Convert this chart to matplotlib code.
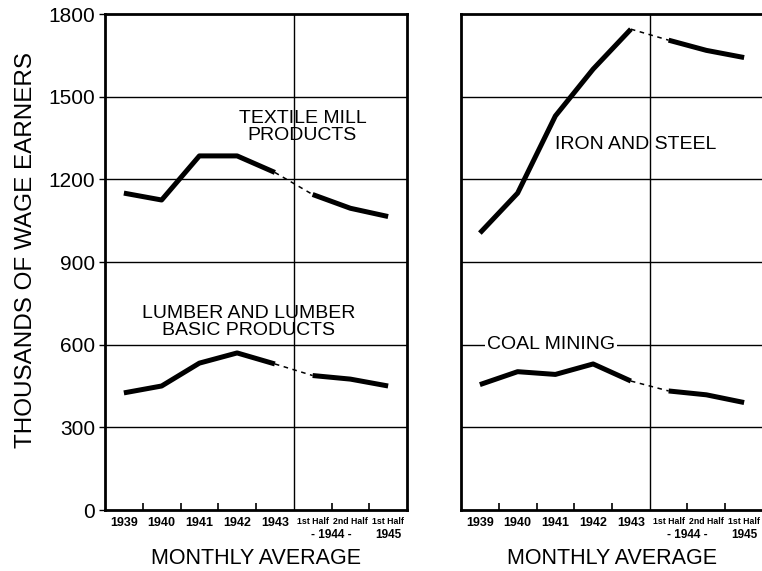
import matplotlib
matplotlib.use("Agg")
import matplotlib.pyplot as plt
import matplotlib.transforms as mtransforms

plt.rcParams['font.family'] = ['Liberation Sans', 'DejaVu Sans']

categories = ['1939', '1940', '1941', '1942', '1943', '1st Half', '2nd Half', '1st Half']
year_groups = ['- 1944 -', '1945']
textile = [1150, 1125, 1285, 1285, 1225, 1145, 1095, 1065]
lumber = [425, 450, 533, 570, 530, 488, 475, 450]
iron_steel = [1005, 1150, 1430, 1600, 1745, 1705, 1668, 1642]
coal = [455, 502, 492, 530, 468, 432, 418, 390]
yticks = [0, 300, 600, 900, 1200, 1500, 1800]

x = [i + 0.5 for i in range(len(categories))]

fig = plt.figure(figsize=(7.62, 5.71), dpi=100)
ax1 = fig.add_axes([105/762, 1 - 510/571, 302/762, 496/571])
ax2 = fig.add_axes([461/762, 1 - 510/571, 302/762, 496/571])


def draw_series(ax, vals):
    kw = dict(color='black', solid_capstyle='butt', solid_joinstyle='round')
    ax.plot(x[:5], vals[:5], lw=3.6, **kw)
    ax.plot(x[4:6], vals[4:6], lw=1.1, ls=(0, (3, 3)), color='black')
    ax.plot(x[5:], vals[5:], lw=3.6, **kw)


def style(ax, show_y):
    ax.set_xlim(0, 8)
    ax.set_ylim(0, 1800)
    for s in ax.spines.values():
        s.set_linewidth(2)
    for v in yticks[1:-1]:
        ax.axhline(v, color='black', lw=1, zorder=1)
    ax.axvline(5, color='black', lw=1, zorder=1)
    ax.set_yticks(yticks)
    if show_y:
        ax.set_yticklabels([str(v) for v in yticks], fontsize=15)
        ax.tick_params(axis='y', direction='out', length=4, width=1, pad=3)
    else:
        ax.tick_params(axis='y', length=0, labelleft=False)
    ax.set_xticks(x)
    ax.set_xticks([1, 2, 3, 4, 6, 7], minor=True)
    ax.tick_params(axis='x', which='major', length=0, pad=5)
    ax.tick_params(axis='x', which='minor', direction='in', length=5, width=1.2)
    ax.set_xticklabels(categories)
    for i, lab in enumerate(ax.get_xticklabels()):
        lab.set_fontweight('bold')
        lab.set_fontsize(9 if i < 5 else 6.3)
    tr = mtransforms.blended_transform_factory(ax.transData, ax.transAxes)
    ax.text(6.0, -0.05, year_groups[0], transform=tr, ha='center', va='center',
            fontsize=8.5, fontweight='bold')
    ax.text(7.5, -0.05, year_groups[1], transform=tr, ha='center', va='center',
            fontsize=8.5, fontweight='bold')
    ax.text(0.5, -0.097, 'MONTHLY AVERAGE', transform=ax.transAxes, ha='center',
            va='center', fontsize=15.5)


style(ax1, True)
style(ax2, False)
ax2.spines['right'].set_visible(False)

draw_series(ax1, textile)
draw_series(ax1, lumber)
draw_series(ax2, iron_steel)
draw_series(ax2, coal)

ax1.text(5.23, 1390, 'TEXTILE MILL\nPRODUCTS', ha='center', va='center',
         fontsize=14, linespacing=0.95)
ax1.text(3.8, 682, 'LUMBER AND LUMBER\nBASIC PRODUCTS', ha='center', va='center',
         fontsize=14, linespacing=0.95)
ax2.text(4.64, 1325, 'IRON AND STEEL', ha='center', va='center', fontsize=14)
ax2.text(2.38, 600, 'COAL MINING', ha='center', va='center', fontsize=14,
         bbox=dict(facecolor='white', edgecolor='none', pad=1.5), zorder=3)

fig.text(26/762, 1 - 250/571, 'THOUSANDS OF WAGE EARNERS', rotation=90,
         ha='center', va='center', fontsize=17.5)

fig.savefig('out.png', dpi=100)
